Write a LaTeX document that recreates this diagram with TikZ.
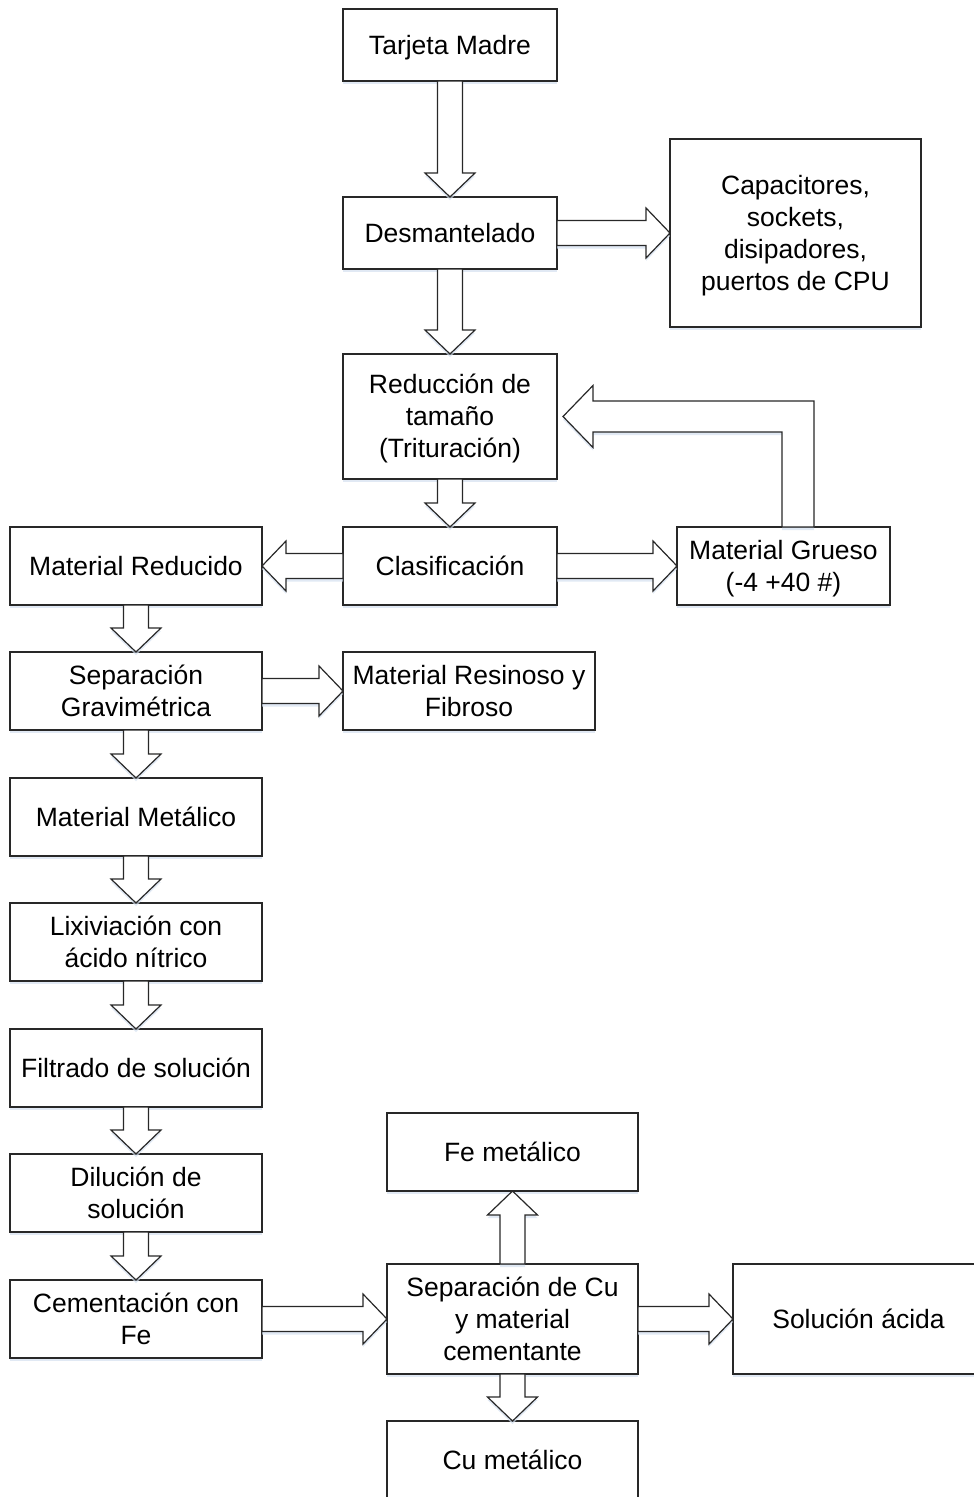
\documentclass[tikz,border=0pt]{standalone}
\usepackage{fontspec}
\setmainfont{Liberation Sans}
\usetikzlibrary{calc,shadows}
\definecolor{linec}{RGB}{40,40,40}
\definecolor{shadowc}{RGB}{212,224,240}
\newcommand\ls{\rule[-0.212em]{0pt}{1.117em}}
\tikzset{
  shd/.style={drop shadow={shadow xshift=0pt,shadow yshift=-3pt,fill=shadowc,opacity=0.7}},
  box/.style={draw=linec, line width=1.2pt, fill=white, shd, inner sep=0pt, outer sep=0pt,
              align=center, font=\fontsize{26.5}{32}\selectfont},
  blk/.style={draw=linec, line width=1.2pt, fill=white, shd, line join=miter},
}
% block arrows between named nodes
\newcommand\arrD[2]{%
  \path (#1.south) coordinate (s) (#1.south |- #2.north) coordinate (t);
  \draw[blk] ($(s)+(-12.5,0)$) -- ($(t)+(-12.5,-24)$) -- ($(t)+(-25,-24)$) -- (t)
    -- ($(t)+(25,-24)$) -- ($(t)+(12.5,-24)$) -- ($(s)+(12.5,0)$) -- cycle;}
\newcommand\arrU[2]{%
  \path (#1.north) coordinate (s) (#1.north |- #2.south) coordinate (t);
  \draw[blk] ($(s)+(-12.5,0)$) -- ($(t)+(-12.5,24)$) -- ($(t)+(-25,24)$) -- (t)
    -- ($(t)+(25,24)$) -- ($(t)+(12.5,24)$) -- ($(s)+(12.5,0)$) -- cycle;}
\newcommand\arrR[2]{%
  \path (#1.east) coordinate (s) (#1.east -| #2.west) coordinate (t);
  \draw[blk] ($(s)+(0,-12.5)$) -- ($(t)+(-24,-12.5)$) -- ($(t)+(-24,-25)$) -- (t)
    -- ($(t)+(-24,25)$) -- ($(t)+(-24,12.5)$) -- ($(s)+(0,12.5)$) -- cycle;}
\newcommand\arrL[2]{%
  \path (#1.west) coordinate (s) (#1.west -| #2.east) coordinate (t);
  \draw[blk] ($(s)+(0,-12.5)$) -- ($(t)+(24,-12.5)$) -- ($(t)+(24,-25)$) -- (t)
    -- ($(t)+(24,25)$) -- ($(t)+(24,12.5)$) -- ($(s)+(0,12.5)$) -- cycle;}
\begin{document}
\begin{tikzpicture}[x=1pt,y=-1pt]
\useasboundingbox (0,0) rectangle (974,1497);
\clip (0,0) rectangle (974,1497);

% nodes
\node[box,minimum width=214pt,minimum height=72pt]  (tarjeta) at (450,45)    {\ls Tarjeta Madre};
\node[box,minimum width=214pt,minimum height=72pt]  (desm)    at (450,233)   {\ls Desmantelado};
\node[box,minimum width=251pt,minimum height=188pt] (capac)   at (795.5,233) {\ls Capacitores,\\\ls sockets,\\\ls disipadores,\\\ls puertos de CPU};
\node[box,minimum width=214pt,minimum height=125pt] (reduc)   at (450,416.5) {\ls Reducción de\\\ls tamaño\\\ls (Trituración)};
\node[box,minimum width=214pt,minimum height=78pt]  (clasif)  at (450,566)   {\ls Clasificación};
\node[box,minimum width=252pt,minimum height=78pt]  (mreduc)  at (136,566)   {\ls Material Reducido};
\node[box,minimum width=213pt,minimum height=78pt]  (grueso)  at (783.5,566) {\ls Material Grueso\\\ls (-4 +40 \#)};
\node[box,minimum width=252pt,minimum height=78pt]  (sepgrav) at (136,691)   {\ls Separación\\\ls Gravimétrica};
\node[box,minimum width=252pt,minimum height=78pt]  (resin)   at (469,691)   {\ls Material Resinoso y\\\ls Fibroso};
\node[box,minimum width=252pt,minimum height=78pt]  (metal)   at (136,817)   {\ls Material Metálico};
\node[box,minimum width=252pt,minimum height=78pt]  (lixiv)   at (136,942)   {\ls Lixiviación con\\\ls ácido nítrico};
\node[box,minimum width=252pt,minimum height=78pt]  (filtr)   at (136,1068)  {\ls Filtrado de solución};
\node[box,minimum width=252pt,minimum height=78pt]  (dilu)    at (136,1193)  {\ls Dilución de\\\ls solución};
\node[box,minimum width=252pt,minimum height=78pt]  (cement)  at (136,1319)  {\ls Cementación con\\\ls Fe};
\node[box,minimum width=251pt,minimum height=78pt]  (femet)   at (512.5,1152){\ls Fe metálico};
\node[box,minimum width=251pt,minimum height=110pt] (sepcu)   at (512.5,1319){\ls Separación de Cu\\\ls y material\\\ls cementante};
\node[box,minimum width=251pt,minimum height=110pt] (soluc)   at (858.5,1319){\ls Solución ácida};
\node[box,minimum width=251pt,minimum height=78pt]  (cumet)   at (512.5,1460){\ls Cu metálico};

% connectors
\arrD{tarjeta}{desm}
\arrR{desm}{capac}
\arrD{desm}{reduc}
\arrD{reduc}{clasif}
\arrL{clasif}{mreduc}
\arrR{clasif}{grueso}
\arrD{mreduc}{sepgrav}
\arrR{sepgrav}{resin}
\arrD{sepgrav}{metal}
\arrD{metal}{lixiv}
\arrD{lixiv}{filtr}
\arrD{filtr}{dilu}
\arrD{dilu}{cement}
\arrR{cement}{sepcu}
\arrU{sepcu}{femet}
\arrR{sepcu}{soluc}
\arrD{sepcu}{cumet}

% recycle L-shaped arrow
\coordinate (gtop) at ($(grueso.north)+(14.5,0)$);
\coordinate (rtip) at ($(reduc.east)+(6,0)$);
\coordinate (gcor) at (gtop |- rtip);
\draw[blk] ($(gtop)+(-16,0)$) -- ($(gcor)+(-16,15.5)$) -- ($(rtip)+(30,15.5)$)
  -- ($(rtip)+(30,31)$) -- (rtip) -- ($(rtip)+(30,-31)$) -- ($(rtip)+(30,-15.5)$)
  -- ($(gcor)+(16,-15.5)$) -- ($(gtop)+(16,0)$) -- cycle;
\end{tikzpicture}
\end{document}
